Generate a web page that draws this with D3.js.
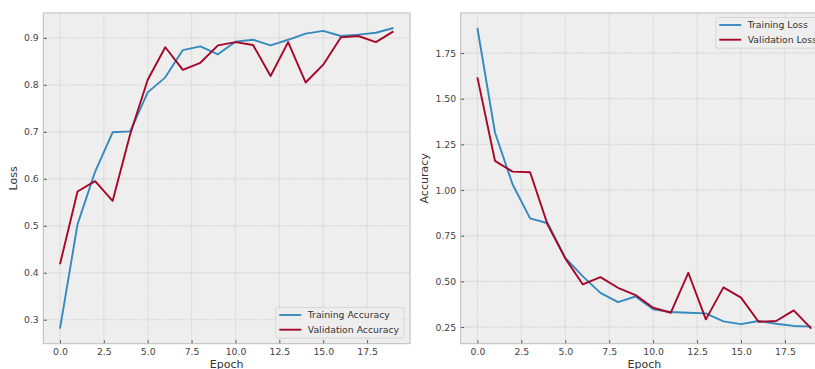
<!DOCTYPE html>
<html>
<head>
<meta charset="utf-8">
<script src="https://cdn.jsdelivr.net/npm/d3@7"></script>
<style>
  html, body { margin: 0; padding: 0; background: #ffffff; }
  svg { display: block; font-family: "DejaVu Sans", sans-serif; }
</style>
</head>
<body>
<svg id="chart" width="815" height="369"></svg>
<script>
// Epoch index shared by both panels
const epochs = d3.range(20);

// Accuracy history (left panel)
const trainAcc = [0.281, 0.503, 0.615, 0.699, 0.701, 0.784, 0.816, 0.874, 0.882, 0.865,
                  0.892, 0.896, 0.884, 0.896, 0.909, 0.915, 0.904, 0.907, 0.911, 0.921];
const valAcc   = [0.418, 0.573, 0.595, 0.553, 0.695, 0.811, 0.880, 0.832, 0.847, 0.884,
                  0.891, 0.885, 0.819, 0.891, 0.805, 0.843, 0.901, 0.904, 0.891, 0.914];

// Loss history (right panel)
const trainLoss = [1.887, 1.315, 1.032, 0.845, 0.818, 0.629, 0.527, 0.437, 0.386, 0.417,
                   0.347, 0.332, 0.328, 0.325, 0.281, 0.266, 0.283, 0.268, 0.256, 0.252];
const valLoss   = [1.617, 1.160, 1.101, 1.097, 0.809, 0.626, 0.483, 0.523, 0.465, 0.425,
                   0.356, 0.328, 0.547, 0.292, 0.467, 0.411, 0.279, 0.283, 0.341, 0.241];

// Tick values
const xTicks = [0, 2.5, 5, 7.5, 10, 12.5, 15, 17.5];
const accTicks = [0.3, 0.4, 0.5, 0.6, 0.7, 0.8, 0.9];
const lossTicks = [0.25, 0.5, 0.75, 1.0, 1.25, 1.5, 1.75];

const BLUE = "#348ABD";
const RED = "#A60628";
const FONT = 9.3;

const svg = d3.select("#chart");

// pad a domain by 5% on each side
function padded(ext) {
  const m = (ext[1] - ext[0]) * 0.05;
  return [ext[0] - m, ext[1] + m];
}

function panel(opts) {
  const { left, right, top, bottom, series, yTicks, yFmt, yLabel, legendPos } = opts;
  const g = svg.append("g");

  const x = d3.scaleLinear().domain(padded([0, epochs.length - 1])).range([left, right]);
  const allY = series.flatMap(s => s.values);
  const y = d3.scaleLinear().domain(padded(d3.extent(allY))).range([bottom, top]);

  // background
  g.append("rect")
    .attr("x", left).attr("y", top)
    .attr("width", right - left).attr("height", bottom - top)
    .attr("fill", "#eeeeee");

  // grid
  const grid = g.append("g").attr("stroke", "#bdbdbd").attr("stroke-width", 0.7)
    .attr("stroke-dasharray", "1.2,1.2");
  grid.selectAll(".gx").data(xTicks).join("line")
    .attr("x1", d => x(d)).attr("x2", d => x(d))
    .attr("y1", top).attr("y2", bottom);
  grid.selectAll(".gy").data(yTicks).join("line")
    .attr("x1", left).attr("x2", right)
    .attr("y1", d => y(d)).attr("y2", d => y(d));

  // axes with inward ticks
  const xAxis = d3.axisBottom(x).tickValues(xTicks).tickFormat(d3.format(".1f"))
    .tickSizeInner(-3.5).tickSizeOuter(0).tickPadding(4.5);
  const gx = g.append("g").attr("transform", `translate(0,${bottom})`).call(xAxis);
  const yAxis = d3.axisLeft(y).tickValues(yTicks).tickFormat(yFmt)
    .tickSizeInner(-3.5).tickSizeOuter(0).tickPadding(4.5);
  const gy = g.append("g").attr("transform", `translate(${left},0)`).call(yAxis);
  [gx, gy].forEach(a => {
    a.select(".domain").remove();
    a.selectAll(".tick line").attr("stroke", "#333").attr("stroke-width", 0.8);
    a.selectAll(".tick text").attr("fill", "#444").attr("font-size", FONT)
      .attr("font-family", "DejaVu Sans, sans-serif");
  });

  // frame
  g.append("rect")
    .attr("x", left).attr("y", top)
    .attr("width", right - left).attr("height", bottom - top)
    .attr("fill", "none").attr("stroke", "#bcbcbc").attr("stroke-width", 1);

  // series lines
  const line = d3.line().x((d, i) => x(epochs[i])).y(d => y(d));
  series.forEach(s => {
    g.append("path").datum(s.values)
      .attr("d", line)
      .attr("fill", "none")
      .attr("stroke", s.color)
      .attr("stroke-width", 1.9)
      .attr("stroke-linejoin", "round");
  });

  // axis labels
  g.append("text")
    .attr("x", (left + right) / 2).attr("y", 367.5)
    .attr("text-anchor", "middle").attr("font-size", 11).attr("fill", "#333")
    .text("Epoch");
  let maxTickW = 0;
  gy.selectAll(".tick text").each(function () {
    maxTickW = Math.max(maxTickW, this.getComputedTextLength());
  });
  const labelX = left - 4.5 - maxTickW - 7;
  g.append("text")
    .attr("transform", `translate(${labelX},${(top + bottom) / 2}) rotate(-90)`)
    .attr("text-anchor", "middle").attr("font-size", 11).attr("fill", "#333")
    .text(yLabel);

  // legend
  const lg = g.append("g");
  const rowH = 14.7;
  const box = lg.append("rect").attr("rx", 2)
    .attr("fill", "#eeeeee").attr("fill-opacity", 0.8)
    .attr("stroke", "#cfcfcf").attr("stroke-width", 0.8);
  const items = lg.selectAll(".item").data(series).join("g");
  items.append("line")
    .attr("x1", 3.5).attr("x2", 25.5)
    .attr("y1", (d, i) => 7.5 + i * rowH).attr("y2", (d, i) => 7.5 + i * rowH)
    .attr("stroke", d => d.color).attr("stroke-width", 1.9);
  const texts = items.append("text")
    .attr("x", 32).attr("y", (d, i) => 7.5 + i * rowH)
    .attr("dy", "0.35em").attr("font-size", FONT).attr("fill", "#333")
    .text(d => d.name);
  let tw = 0;
  texts.each(function () { tw = Math.max(tw, this.getComputedTextLength()); });
  const bw = 32 + tw + 5;
  const bh = 7.5 + rowH + 8.5;
  box.attr("width", bw).attr("height", bh);
  const lx = right - 6 - bw;
  const ly = legendPos === "upper" ? top + 4.5 : bottom - 5.5 - bh;
  lg.attr("transform", `translate(${lx},${ly})`);
}

panel({
  left: 43.3, right: 410.1, top: 13, bottom: 343.7,
  series: [
    { name: "Training Accuracy", values: trainAcc, color: BLUE },
    { name: "Validation Accuracy", values: valAcc, color: RED }
  ],
  yTicks: accTicks, yFmt: d3.format(".1f"), yLabel: "Loss", legendPos: "lower"
});

panel({
  left: 460.7, right: 828, top: 13, bottom: 343.7,
  series: [
    { name: "Training Loss", values: trainLoss, color: BLUE },
    { name: "Validation Loss", values: valLoss, color: RED }
  ],
  yTicks: lossTicks, yFmt: d3.format(".2f"), yLabel: "Accuracy", legendPos: "upper"
});
</script>
</body>
</html>
